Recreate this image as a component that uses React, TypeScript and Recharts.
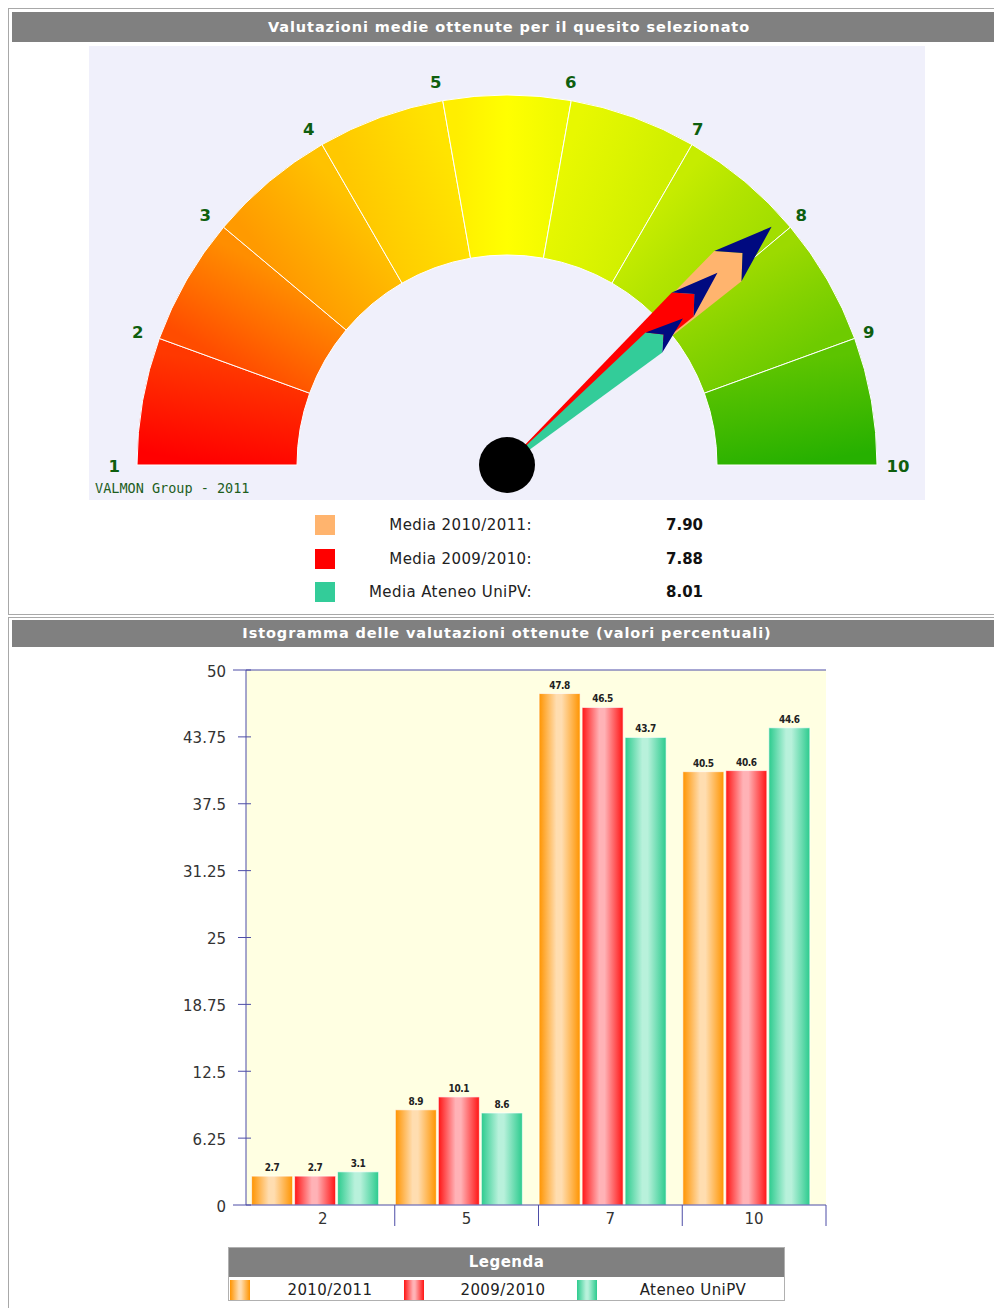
import React from 'react';
import {
  PieChart,
  Pie,
  Cell,
  BarChart,
  Bar,
  XAxis,
  YAxis,
  ReferenceLine,
  CartesianGrid,
} from 'recharts';

// ---------------- DATA ----------------
const gaugeTicks = ['1', '2', '3', '4', '5', '6', '7', '8', '9', '10'];
const needleLabels = ['Media 2010/2011:', 'Media 2009/2010:', 'Media Ateneo UniPV:'];
const needleValues = [7.9, 7.88, 8.01];

const categories = ['2', '5', '7', '10'];
const series2010 = [2.7, 8.9, 47.8, 40.5];
const series2009 = [2.7, 10.1, 46.5, 40.6];
const seriesAteneo = [3.1, 8.6, 43.7, 44.6];
const yTicks = [0, 6.25, 12.5, 18.75, 25, 31.25, 37.5, 43.75, 50];
const legendLabels = ['2010/2011', '2009/2010', 'Ateneo UniPV'];

// ---------------- STYLE ----------------
const FONT = '"DejaVu Sans", Verdana, sans-serif';
const AXIS_COLOR = '#4d4da6';
const segmentColors = [
  ['#FF0000', '#FF1C00', '#FF3800'],
  ['#FF4C00', '#FF6E00', '#FF8E00'],
  ['#FF9A00', '#FFAE00', '#FFC200'],
  ['#FFC800', '#FFD600', '#FFE400'],
  ['#FFEE00', '#FFFF00', '#F0FA00'],
  ['#E8F800', '#DCF400', '#CFEF00'],
  ['#C6EC00', '#B2E400', '#A2DE00'],
  ['#9CDA00', '#84D200', '#6ECB00'],
  ['#5CC400', '#42BA00', '#26B000'],
];
const needleColors = ['#FFB46E', '#FF0000', '#33CC99'];
const needleLengths = [356, 285, 229];
const NAVY = '#000A80';
const barGrad = [
  ['#FF9400', '#FFDDB0', '#FF9400'],
  ['#FF1414', '#FFB2B6', '#FF1414'],
  ['#2CCB8E', '#B8F1DB', '#2CCB8E'],
];
const barKeys = ['s2010', 's2009', 'sAteneo'];

// ---------------- GAUGE GEOMETRY ----------------
const G_W = 836;
const G_H = 454;
const G_CX = 418;
const G_CY = 419;
const R_IN = 210;
const R_OUT = 370;
const R_LABEL = 389;
const gMin = Number(gaugeTicks[0]);
const gMax = Number(gaugeTicks[gaugeTicks.length - 1]);
const valueToAngle = (v: number) => 180 - ((v - gMin) / (gMax - gMin)) * 180;
const RAD = Math.PI / 180;

const gaugeSegments = gaugeTicks.slice(0, -1).map((t, i) => ({
  name: `${t}-${gaugeTicks[i + 1]}`,
  value: 1,
}));
const tickSlices = gaugeTicks.map((t) => ({ name: t, value: 1 }));

const polar = (r: number, angDeg: number) => ({
  x: G_CX + r * Math.cos(angDeg * RAD),
  y: G_CY - r * Math.sin(angDeg * RAD),
});

function GaugeDefs() {
  return (
    <defs>
      {gaugeSegments.map((s, i) => {
        const a0 = valueToAngle(Number(gaugeTicks[i]));
        const a1 = valueToAngle(Number(gaugeTicks[i + 1]));
        const p0 = polar(290, a0);
        const p1 = polar(290, a1);
        const c = segmentColors[i];
        return (
          <linearGradient
            key={s.name}
            id={`seg${i}`}
            gradientUnits="userSpaceOnUse"
            x1={p0.x}
            y1={p0.y}
            x2={p1.x}
            y2={p1.y}
          >
            <stop offset="0%" stopColor={c[0]} />
            <stop offset="50%" stopColor={c[1]} />
            <stop offset="100%" stopColor={c[2]} />
          </linearGradient>
        );
      })}
    </defs>
  );
}

function NeedleOverlay() {
  return (
    <svg
      width={G_W}
      height={G_H}
      style={{ position: 'absolute', left: 0, top: 0, pointerEvents: 'none' }}
    >
      {needleValues.map((v, i) => {
        const a = valueToAngle(v) * RAD;
        const L = needleLengths[i];
        const w = 0.057 * L;
        const ux = Math.cos(a);
        const uy = -Math.sin(a);
        const vx = Math.sin(a);
        const vy = Math.cos(a);
        const P = (u: number, s: number) =>
          `${(G_CX + u * ux + s * vx).toFixed(1)},${(G_CY + u * uy + s * vy).toFixed(1)}`;
        const body = [P(0, -1), P(0.835 * L, -w), P(0.89 * L, 0), P(0.835 * L, w), P(0, 1)].join(' ');
        const head = [P(0.835 * L, -w), P(L, 0), P(0.835 * L, w), P(0.89 * L, 0)].join(' ');
        return (
          <g key={i}>
            <polygon points={body} fill={needleColors[i]} />
            <polygon points={head} fill={NAVY} />
          </g>
        );
      })}
      <circle cx={G_CX} cy={G_CY} r={28} fill="#000" />
      <text
        x={6}
        y={447}
        fontFamily='"DejaVu Sans Mono", monospace'
        fontSize={13.5}
        fill="#1E5E1E"
      >
        VALMON Group - 2011
      </text>
    </svg>
  );
}

const renderTickLabel = (props: any) => {
  const { midAngle, index } = props;
  const p = polar(R_LABEL, midAngle);
  return (
    <text
      x={p.x - 9.5}
      y={p.y + 1}
      textAnchor="start"
      dominantBaseline="central"
      fontFamily={FONT}
      fontWeight="bold"
      fontSize={16.5}
      fill="#0E5E0E"
    >
      {gaugeTicks[index]}
    </text>
  );
};

function Gauge() {
  return (
    <PieChart width={G_W} height={G_H} margin={{ top: 0, right: 0, bottom: 0, left: 0 }}>
      <GaugeDefs />
      <Pie
        data={gaugeSegments}
        dataKey="value"
        cx={G_CX}
        cy={G_CY}
        startAngle={180}
        endAngle={0}
        innerRadius={R_IN}
        outerRadius={R_OUT}
        stroke="#FFFFFF"
        strokeWidth={1}
        isAnimationActive={false}
      >
        {gaugeSegments.map((s, i) => (
          <Cell key={s.name} fill={`url(#seg${i})`} />
        ))}
      </Pie>
      <Pie
        data={tickSlices}
        dataKey="value"
        cx={G_CX}
        cy={G_CY}
        startAngle={190}
        endAngle={-10}
        innerRadius={R_OUT}
        outerRadius={R_OUT + 0.5}
        fill="none"
        stroke="none"
        label={renderTickLabel}
        labelLine={false}
        isAnimationActive={false}
      />
    </PieChart>
  );
}

// ---------------- BAR CHART ----------------
const barData = categories.map((c, i) => ({
  cat: c,
  s2010: series2010[i],
  s2009: series2009[i],
  sAteneo: seriesAteneo[i],
}));

const B_W = 700;
const B_H = 600;
const B_MARGIN = { top: 20, right: 24, bottom: 15, left: 36 };
const Y_W = 60;
const X_PAD_LEFT = 5;
const PLOT_W = B_W - B_MARGIN.left - B_MARGIN.right - Y_W;
const BAND = (PLOT_W - X_PAD_LEFT) / categories.length;
const BAR_SHIFT = -7.4;

const YTick = (props: any) => {
  const { x, y, payload } = props;
  const edge = payload.value === yTicks[0] || payload.value === yTicks[yTicks.length - 1];
  return (
    <g>
      <line x1={x + (edge ? 7 : 12)} x2={x + 25} y1={y} y2={y} stroke={AXIS_COLOR} strokeWidth={1} />
      <text
        x={x}
        y={y + 1.5}
        textAnchor="end"
        dominantBaseline="central"
        fontFamily={FONT}
        fontSize={15}
        fill="#333"
      >
        {String(payload.value)}
      </text>
    </g>
  );
};

const XTick = (props: any) => {
  const { x, y, payload } = props;
  return (
    <g>
      <line
        x1={x + BAND / 2}
        x2={x + BAND / 2}
        y1={y - 6}
        y2={y + 15}
        stroke={AXIS_COLOR}
        strokeWidth={1}
      />
      <text x={x} y={y + 13} textAnchor="middle" fontFamily={FONT} fontSize={15} fill="#333">
        {payload.value}
      </text>
    </g>
  );
};

const makeShape = (key: string) => (props: any) => {
  const { x, y, width, height, fill, payload } = props;
  const val = payload ? payload[key] : props.value;
  if (width == null || height == null) return null;
  return (
    <g>
      <rect
        x={x + BAR_SHIFT}
        y={y}
        width={width}
        height={height}
        fill={fill}
        stroke="rgba(255,255,255,0.65)"
        strokeWidth={1}
      />
      <text
        x={x + BAR_SHIFT + width / 2}
        y={y - 5}
        textAnchor="middle"
        fontFamily='"DejaVu Sans Condensed", "DejaVu Sans", sans-serif'
        fontWeight="bold"
        fontSize={10}
        letterSpacing={-0.4}
        fill="#222"
      >
        {String(val)}
      </text>
    </g>
  );
};

function Histogram() {
  return (
    <BarChart width={B_W} height={B_H} data={barData} margin={B_MARGIN} barGap={2}>
      <defs>
        {barGrad.map((g, i) => (
          <linearGradient key={i} id={`bar${i}`} x1="0" y1="0" x2="1" y2="0">
            <stop offset="0%" stopColor={g[0]} />
            <stop offset="42%" stopColor={g[1]} />
            <stop offset="55%" stopColor={g[1]} />
            <stop offset="100%" stopColor={g[2]} />
          </linearGradient>
        ))}
      </defs>
      <CartesianGrid fill="#FFFFE2" horizontal={false} vertical={false} stroke="none" />
      <XAxis
        dataKey="cat"
        padding={{ left: X_PAD_LEFT, right: 0 }}
        axisLine={{ stroke: AXIS_COLOR }}
        tickLine={false}
        tickSize={0}
        tickMargin={6}
        tick={<XTick />}
        interval={0}
        height={30}
      />
      <YAxis
        type="number"
        domain={[yTicks[0], yTicks[yTicks.length - 1]]}
        ticks={yTicks}
        interval={0}
        width={Y_W}
        axisLine={{ stroke: AXIS_COLOR }}
        tickLine={false}
        tickSize={8}
        tickMargin={12}
        tick={<YTick />}
      />
      <ReferenceLine y={yTicks[yTicks.length - 1]} stroke={AXIS_COLOR} />
      {barKeys.map((k, i) => (
        <Bar
          key={k}
          dataKey={k}
          barSize={41}
          fill={`url(#bar${i})`}
          isAnimationActive={false}
          shape={makeShape(k)}
        />
      ))}
    </BarChart>
  );
}

// ---------------- PAGE ----------------
const titleStyle: React.CSSProperties = {
  position: 'absolute',
  background: '#808080',
  color: '#fff',
  fontFamily: FONT,
  fontWeight: 'bold',
  fontSize: 14.5,
  letterSpacing: 0.9,
  textAlign: 'center',
  whiteSpace: 'nowrap',
};

export default function App() {
  return (
    <div
      style={{
        position: 'absolute',
        left: 0,
        top: 0,
        width: 994,
        height: 1308,
        overflow: 'hidden',
        background: '#fff',
      }}
    >
      {/* panel 1 */}
      <div
        style={{
          position: 'absolute',
          left: 8,
          top: 8,
          width: 1010,
          height: 605,
          border: '1px solid #a8a8a8',
        }}
      />
      <div style={{ ...titleStyle, left: 12, top: 12, width: 994, height: 30, lineHeight: '30px' }}>
        Valutazioni medie ottenute per il quesito selezionato
      </div>
      <div
        style={{
          position: 'absolute',
          left: 89,
          top: 46,
          width: G_W,
          height: G_H,
          background: '#F0F0FB',
        }}
      >
        <Gauge />
        <NeedleOverlay />
      </div>
      {needleLabels.map((lab, i) => (
        <div key={lab}>
          <div
            style={{
              position: 'absolute',
              left: 315,
              top: 515 + i * 33.5,
              width: 20,
              height: 20,
              background: needleColors[i],
            }}
          />
          <div
            style={{
              position: 'absolute',
              left: 340,
              width: 192,
              top: 514 + i * 33.5,
              textAlign: 'right',
              fontFamily: FONT,
              fontSize: 15,
              letterSpacing: 0.4,
              color: '#222',
              lineHeight: '22px',
              whiteSpace: 'nowrap',
            }}
          >
            {lab}
          </div>
          <div
            style={{
              position: 'absolute',
              left: 666,
              top: 514 + i * 33.5,
              fontFamily: FONT,
              fontSize: 15,
              fontWeight: 'bold',
              color: '#111',
              lineHeight: '22px',
            }}
          >
            {needleValues[i].toFixed(2)}
          </div>
        </div>
      ))}

      {/* panel 2 */}
      <div
        style={{
          position: 'absolute',
          left: 8,
          top: 617,
          width: 1010,
          height: 720,
          border: '1px solid #a8a8a8',
        }}
      />
      <div style={{ ...titleStyle, left: 12, top: 620, width: 990, height: 27, lineHeight: '27px' }}>
        Istogramma delle valutazioni ottenute (valori percentuali)
      </div>
      <div style={{ position: 'absolute', left: 150, top: 650 }}>
        <Histogram />
      </div>

      {/* legend */}
      <div
        style={{
          position: 'absolute',
          left: 228,
          top: 1247,
          width: 557,
          height: 54,
          border: '1px solid #b0b0b0',
          boxSizing: 'border-box',
          background: '#fff',
        }}
      >
        <div
          style={{
            height: 29,
            lineHeight: '29px',
            background: '#808080',
            color: '#fff',
            fontFamily: FONT,
            fontWeight: 'bold',
            fontSize: 15,
            letterSpacing: 0.5,
            textAlign: 'center',
          }}
        >
          Legenda
        </div>
        {legendLabels.map((lab, i) => {
          const sw = [1, 175, 348][i];
          const center = [101, 274, 464][i];
          const g = barGrad[i];
          return (
            <React.Fragment key={lab}>
              <div
                style={{
                  position: 'absolute',
                  left: sw,
                  top: 32,
                  width: 20,
                  height: 20,
                  background: `linear-gradient(to right, ${g[0]} 0%, ${g[1]} 45%, ${g[1]} 55%, ${g[2]} 100%)`,
                }}
              />
              <div
                style={{
                  position: 'absolute',
                  left: center - 80,
                  width: 160,
                  top: 31,
                  textAlign: 'center',
                  fontFamily: FONT,
                  fontSize: 15,
                  letterSpacing: 0.4,
                  color: '#222',
                  lineHeight: '22px',
                }}
              >
                {lab}
              </div>
            </React.Fragment>
          );
        })}
      </div>
    </div>
  );
}
